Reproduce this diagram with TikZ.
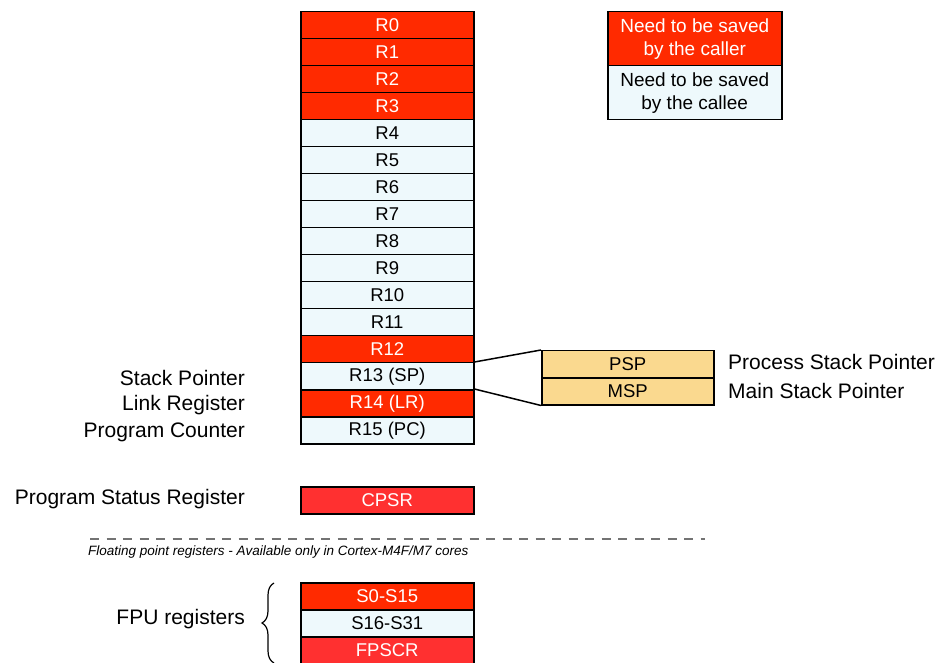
\documentclass[tikz,border=0pt]{standalone}
\usepackage{fontspec}
\setmainfont{Liberation Sans}
\usetikzlibrary{decorations.pathreplacing}
\definecolor{callerred}{HTML}{FF2A00}
\definecolor{statred}{HTML}{FF3030}
\definecolor{calleeblue}{HTML}{EEF9FC}
\definecolor{spyellow}{HTML}{FAD98F}
\tikzset{
  reg/.style={draw=black, line width=1.5pt, minimum width=173pt, minimum height=27pt, inner sep=0pt, anchor=north west, font=\fontsize{18.5}{20}\selectfont},
  callerreg/.style={reg, fill=callerred, text=white},
  calleereg/.style={reg, fill=calleeblue, text=black},
  spreg/.style={reg, fill=spyellow, text=black, minimum width=172pt},
  lbl/.style={font=\fontsize{21}{23}\selectfont, inner sep=0pt},
  legend/.style={draw=black, line width=1.5pt, minimum width=174pt, minimum height=54pt, inner sep=0pt, anchor=north west, align=center, font=\fontsize{19}{23}\selectfont},
}
\begin{document}
\begin{tikzpicture}[x=1pt,y=-1pt]
\useasboundingbox (0,0) rectangle (938,663);
% registers
\node[callerreg] (r0) at (300,11) {R0};
\node[callerreg] (r1) at (300,38) {R1};
\node[callerreg] (r2) at (300,65) {R2};
\node[callerreg] (r3) at (300,92) {R3};
\node[calleereg] (r4) at (300,119) {R4};
\node[calleereg] (r5) at (300,146) {R5};
\node[calleereg] (r6) at (300,173) {R6};
\node[calleereg] (r7) at (300,200) {R7};
\node[calleereg] (r8) at (300,227) {R8};
\node[calleereg] (r9) at (300,254) {R9};
\node[calleereg] (r10) at (300,281) {R10};
\node[calleereg] (r11) at (300,308) {R11};
\node[callerreg] (r12) at (300,335) {R12};
\node[calleereg] (r13) at (300,362) {R13 (SP)};
\node[callerreg] (r14) at (300,389) {R14 (LR)};
\node[calleereg] (r15) at (300,416) {R15 (PC)};
\node[reg, fill=statred, text=white] (cpsr) at (300,486) {CPSR};
\node[callerreg] (s0) at (300,582) {S0-S15};
\node[calleereg] (s16) at (300,609) {S16-S31};
\node[reg, fill=statred, text=white] (fpscr) at (300,636) {FPSCR};
% legend
\node[legend, fill=callerred, text=white] (lcaller) at (607,11) {Need to be saved\\by the caller};
\node[legend, fill=calleeblue, text=black] (lcallee) at (607,65) {Need to be saved\\by the callee};
% PSP / MSP
\node[spreg] (psp) at (541,350) {PSP};
\node[spreg] (msp) at (541,377) {MSP};
\draw[line width=1.5pt] (r13.north east) -- (psp.north west);
\draw[line width=1.5pt] (r14.north east) -- (msp.south west);
% labels
\node[lbl, anchor=east] (lsp) at (245,378) {Stack Pointer};
\node[lbl, anchor=east] (llr) at (245,405) {Link Register};
\node[lbl, anchor=east] (lpc) at (245,432) {Program Counter};
\node[lbl, anchor=east] (lpsr) at (245,499) {Program Status Register};
\node[lbl, anchor=east] (lfpu) at (245,619) {FPU registers};
\node[lbl, anchor=west] (lpsp) at (728,362) {Process Stack Pointer};
\node[lbl, anchor=west] (lmsp) at (728,391) {Main Stack Pointer};
% dashed separator
\coordinate (dl) at (90,539);
\coordinate (dr) at (705,539);
\draw[black!55, line width=1.2pt, dash pattern=on 9pt off 7.5pt] (dl) -- (dr);
\node[anchor=west, inner sep=0pt, font=\fontsize{13.5}{15}\selectfont\itshape] (fptext) at (88,552) {Floating point registers - Available only in Cortex-M4F/M7 cores};
% brace
\coordinate (bb) at (274,663);
\coordinate (bt) at (274,583);
\draw[line width=1.2pt, decorate, decoration={brace, amplitude=12pt}] (bb) -- (bt);
\end{tikzpicture}
\end{document}
